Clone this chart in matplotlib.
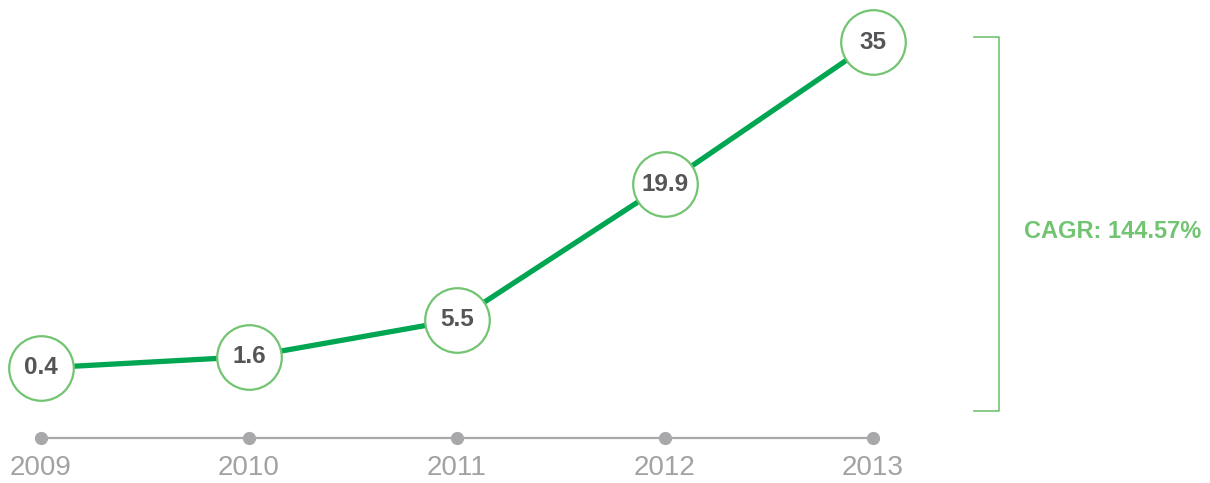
import numpy as np
import matplotlib
matplotlib.use("Agg")
import matplotlib.pyplot as plt

years = [2009, 2010, 2011, 2012, 2013]
values = [0.4, 1.6, 5.5, 19.9, 35]
value_labels = ["0.4", "1.6", "5.5", "19.9", "35"]
year_labels = ["2009", "2010", "2011", "2012", "2013"]
cagr_label = "CAGR: 144.57%"

W, H = 1210, 483
fig = plt.figure(figsize=(W / 100, H / 100), dpi=100)
ax = fig.add_axes([0, 0, 1, 1])
ax.axis("off")

# pixel mapping: 2009 -> x=41px, 208px/year ; value 0.4 -> y=368px, 9.42px/unit
px_per_year = 208.0
px_per_unit = 9.42
x0px, y0px = 41.0, 368.0
ax.set_xlim(years[0] - x0px / px_per_year, years[0] + (W - x0px) / px_per_year)
ax.set_ylim(values[0] - (H - y0px) / px_per_unit, values[0] + y0px / px_per_unit)

ax.plot(years, values, color="#00a651", lw=3.8, solid_capstyle="butt",
        solid_joinstyle="round", zorder=2)

# circles with labels
ax.plot(years, values, "o", ms=46.5, mfc="white", mec="#72c472", mew=1.6, zorder=3)
for x, v, lab in zip(years, values, value_labels):
    ax.text(x, v, lab, ha="center", va="center", fontsize=17.5, fontweight="bold",
            color="#555558", family="Liberation Sans", zorder=4)

# baseline axis
n = len(years)
bt = ax.get_xaxis_transform()
yb = 1 - 438 / H
ax.plot([years[0], years[-1]], [yb, yb], color="#a8a8aa", lw=1.6, transform=bt, zorder=1)
ax.plot(years, [yb] * n, "o", ms=8.5, color="#a8a8aa", transform=bt, zorder=1)
for x, lab in zip(years, year_labels):
    ax.text(x, 1 - 468 / H, lab, ha="center", va="center", fontsize=20,
            color="#a2a2a4", family="Liberation Sans", transform=bt)

# bracket (figure pixel coordinates)
ft = fig.transFigure
def fx(p): return p / W
def fy(p): return 1 - p / H
bx, by0, by1, bl = 999, 37, 411, 974
fig.add_artist(plt.Line2D([fx(bl), fx(bx), fx(bx), fx(bl)],
                          [fy(by0), fy(by0), fy(by1), fy(by1)],
                          color="#72c472", lw=1.2, transform=ft))
fig.text(fx(1024), fy(231), cagr_label, ha="left", va="center", fontsize=17,
         fontweight="bold", color="#72c472", family="Liberation Sans")

fig.savefig("out.png", dpi=100, facecolor="white")
